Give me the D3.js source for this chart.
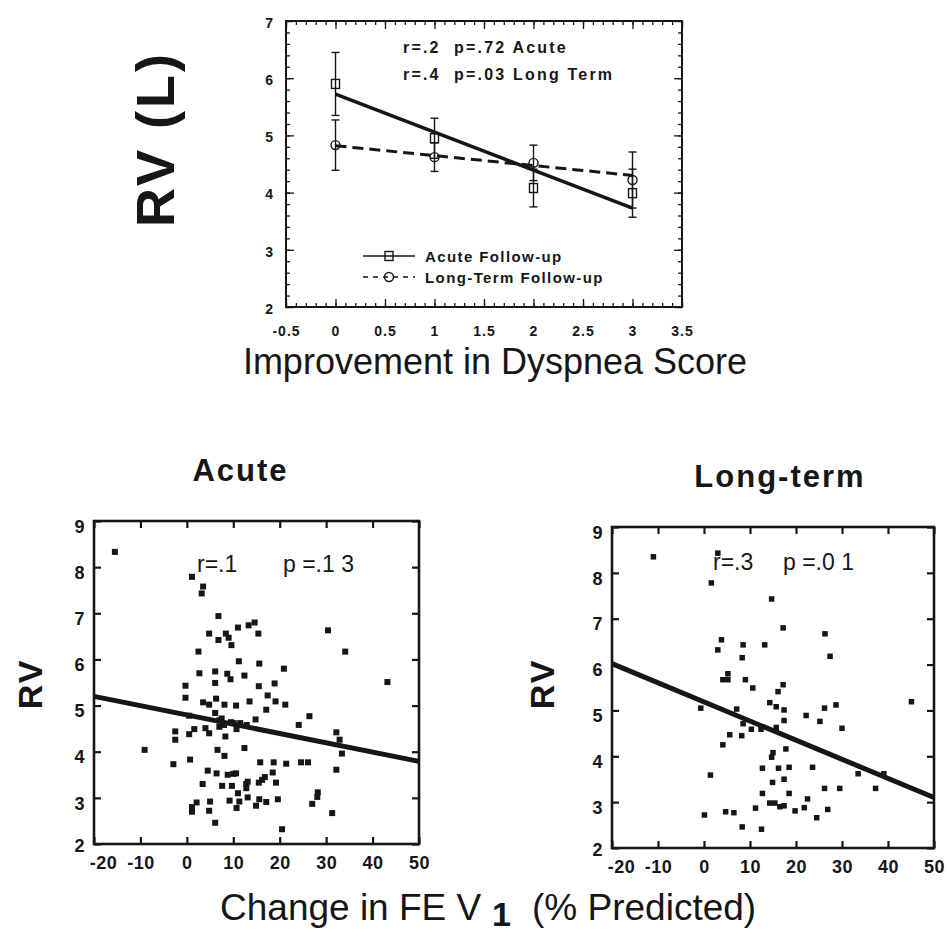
<!DOCTYPE html>
<html>
<head>
<meta charset="utf-8">
<script src="https://cdn.jsdelivr.net/npm/d3@7"></script>
<style>
body { margin: 0; background: #fff; }
svg { display: block; font-family: "Liberation Sans", Arial, Helvetica, sans-serif; }
text { fill: #161616; white-space: pre; }
</style>
</head>
<body>
<script>
'use strict';

// top panel: mean RV by improvement in dyspnea score
let dyspneaScore = [0, 1, 2, 3];
let acuteMean = [5.9, 4.95, 4.08, 3.99];
let acuteErr = [0.55, 0.35, 0.33, 0.42];
let longMean = [4.83, 4.62, 4.52, 4.22];
let longErr = [0.44, 0.25, 0.31, 0.49];
let acuteFitEnds = [5.72, 3.73];   // fitted RV at score 0 and 3
let longFitEnds = [4.82, 4.30];
let topStats = ['r=.2  p=.72 Acute', 'r=.4  p=.03 Long Term'];
let legendLabels = ['Acute Follow-up', 'Long-Term Follow-up'];
let scoreTicks = [-0.5, 0, 0.5, 1, 1.5, 2, 2.5, 3, 3.5];
let rvTopTicks = [2, 3, 4, 5, 6, 7];

// bottom panels: change in FEV1 (% predicted) vs RV
let acuteFev = [-15.5, 1.1, 3.5, 3.2, 6.8, 4.8, 6.8, 8.4, 9.0, 9.6, 11.0, 13.3, 14.6, 15.4, 2.5, 11.2, 15.6, 20.9, 30.4, 34.1,
	43.2, 2.7, 6.1, 8.7, 9.4, 12.4, 6.1, -0.3, 15.5, 18.9, -0.3, 3.5, 4.8, 6.3, 8.1, 10.6, 13.5, 17.4, 17.1, 19.1,
	21.2, 0.5, 6.1, 14.8, 7.0, 24.1, 26.4, -2.5, -2.5, 0.5, 1.6, 4.0, 4.8, 7.0, 8.3, 10.7, 12.9, 10.1, 32.2, 32.9,
	33.4, -9.1, 12.4, 6.6, 8.1, -2.9, 0.7, 15.8, 18.7, 21.4, 26.1, 32.2, 4.5, 6.4, 8.8, 10.6, 18.5, 3.4, 7.6, 9.7,
	12.8, 16.2, 15.5, 19.2, 11.0, 12.8, 28.2, 28.1, 13.1, 9.2, 11.3, 15.6, 17.1, 19.6, 2.1, 1.1, 5.0, 4.8, 1.1, 10.7,
	14.9, 27.0, 31.3, 6.1, 20.5, 7.5, 8.0, 9.5, 11.5, 10.0, 24.6, 13.1, 16.8];
let acuteRv = [8.33, 7.79, 7.58, 7.43, 6.94, 6.56, 6.42, 6.56, 6.47, 6.31, 6.69, 6.74, 6.80, 6.56, 6.17, 5.96, 5.91, 5.80, 6.63, 6.17,
	5.51, 5.70, 5.74, 5.69, 5.57, 5.65, 5.49, 5.43, 5.42, 5.48, 5.17, 5.07, 5.02, 5.15, 5.02, 5.00, 5.09, 5.22, 4.91, 5.09,
	5.02, 4.78, 4.84, 4.70, 4.68, 4.58, 4.77, 4.44, 4.26, 4.38, 4.49, 4.51, 4.40, 4.54, 4.33, 4.49, 4.58, 4.62, 4.42, 4.26,
	3.96, 4.04, 4.08, 4.04, 3.91, 3.73, 3.83, 3.77, 3.77, 3.74, 3.77, 3.61, 3.59, 3.53, 3.50, 3.53, 3.55, 3.30, 3.26, 3.26,
	3.30, 3.39, 3.33, 3.33, 3.10, 3.21, 3.12, 3.02, 3.01, 2.94, 2.92, 2.97, 2.91, 2.97, 2.90, 2.80, 2.92, 2.72, 2.70, 2.78,
	2.83, 2.87, 2.67, 2.46, 2.32, 4.72, 4.58, 4.64, 4.62, 3.52, 3.77, 3.35, 3.45];
let longFev = [-11.0, 3.0, 1.6, 14.7, 17.2, 26.3, 27.4, 3.8, 3.0, 8.5, 13.2, 8.3, 5.2, 4.1, 5.2, 9.0, 10.6, 17.2, 16.1, 14.3,
	15.7, 17.4, 17.4, 22.2, 25.2, 26.2, 28.7, 30.0, 45.1, -0.7, 7.1, 8.5, 10.3, 12.4, 15.7, 5.6, 8.2, 4.1, 17.8, 15.0,
	14.7, 1.4, 12.7, 16.2, 18.5, 23.6, 33.5, 39.1, 14.9, 17.4, 26.2, 29.5, 37.3, 12.7, 18.5, 22.5, 14.3, 15.4, 16.5, 17.4,
	19.8, 21.8, 26.9, 24.5, 11.2, 4.7, 6.5, 0.1, 8.3, 12.5];
let longRv = [8.35, 8.43, 7.78, 7.43, 6.80, 6.67, 6.18, 6.54, 6.32, 6.43, 6.43, 6.15, 5.80, 5.67, 5.67, 5.67, 5.49, 5.56, 5.41, 5.17,
	5.08, 5.01, 4.78, 4.89, 4.76, 5.05, 5.12, 4.61, 5.19, 5.05, 5.03, 4.71, 4.59, 4.59, 4.63, 4.47, 4.45, 4.25, 4.16, 4.08,
	3.98, 3.59, 3.74, 3.74, 3.76, 3.76, 3.62, 3.62, 3.43, 3.50, 3.30, 3.30, 3.30, 3.19, 3.19, 3.07, 2.98, 2.98, 2.90, 2.92,
	2.81, 2.88, 2.84, 2.66, 2.87, 2.79, 2.77, 2.72, 2.46, 2.41];
let acuteLineEnds = [5.2, 3.79];   // regression RV at -20 and 50
let longLineEnds = [6.02, 3.1];
let fevTicks = [-20, -10, 0, 10, 20, 30, 40, 50];
let rvTicks = [2, 3, 4, 5, 6, 7, 8, 9];

let width = 950, height = 936;
let ink = '#161616';

let svg = d3.select('body').append('svg')
	.attr('width', width)
	.attr('height', height);

// ---------- top panel ----------
let x = d3.scaleLinear([-0.5, 3.5], [286, 682]);
let y = d3.scaleLinear([2, 7], [307, 21]);

let noDomain = g => g.select('.domain').remove();
let styleTicks = g => g.selectAll('line').attr('stroke', ink).attr('stroke-width', 1.3);
let minorScore = d3.range(-5, 36).map(i => i / 10);
let minorRv = d3.range(10, 36).map(i => i / 5);

// inward ticks on all four sides, minor then major
[[d3.axisBottom, y(2)], [d3.axisTop, y(7)]].forEach(([ax, pos], i) => {
	svg.append('g').attr('transform', `translate(0,${pos})`)
		.call(ax(x).tickValues(minorScore).tickSize(-4).tickFormat(''))
		.call(noDomain).call(styleTicks);
	svg.append('g').attr('transform', `translate(0,${pos})`)
		.call(ax(x).tickValues(scoreTicks).tickSize(-8).tickPadding(19)
			.tickFormat(d => i ? '' : String(d)))
		.call(noDomain).call(styleTicks)
		.selectAll('text').attr('fill', ink)
		.style('font-size', '14px').style('font-weight', 'bold').style('letter-spacing', '1px');
});
[[d3.axisLeft, x(-0.5)], [d3.axisRight, x(3.5)]].forEach(([ax, pos], i) => {
	svg.append('g').attr('transform', `translate(${pos},0)`)
		.call(ax(y).tickValues(minorRv).tickSize(-4).tickFormat(''))
		.call(noDomain).call(styleTicks);
	svg.append('g').attr('transform', `translate(${pos},0)`)
		.call(ax(y).tickValues(rvTopTicks).tickSize(-8).tickPadding(13)
			.tickFormat(d => i ? '' : String(d)))
		.call(noDomain).call(styleTicks)
		.selectAll('text').attr('fill', ink).attr('dy', '0.45em')
		.style('font-size', '14px').style('font-weight', 'bold');
});

svg.append('rect')
	.attr('x', x(-0.5)).attr('y', y(7))
	.attr('width', x(3.5) - x(-0.5)).attr('height', y(2) - y(7))
	.attr('fill', 'none').attr('stroke', ink).attr('stroke-width', 2);

// fitted lines
svg.append('line')
	.attr('x1', x(0)).attr('y1', y(acuteFitEnds[0]))
	.attr('x2', x(3)).attr('y2', y(acuteFitEnds[1]))
	.attr('stroke', ink).attr('stroke-width', 3.5);
svg.append('line')
	.attr('x1', x(0)).attr('y1', y(longFitEnds[0]))
	.attr('x2', x(3)).attr('y2', y(longFitEnds[1]))
	.attr('stroke', ink).attr('stroke-width', 3).attr('stroke-dasharray', '11,6');

// error bars and markers
function errorBars(means, errs) {
	let g = svg.append('g').attr('stroke', ink).attr('stroke-width', 1.4).attr('fill', 'none');
	dyspneaScore.forEach((s, i) => {
		let lo = y(means[i] - errs[i]), hi = y(means[i] + errs[i]);
		g.append('line').attr('x1', x(s)).attr('x2', x(s)).attr('y1', lo).attr('y2', hi);
		g.append('line').attr('x1', x(s) - 4).attr('x2', x(s) + 4).attr('y1', lo).attr('y2', lo);
		g.append('line').attr('x1', x(s) - 4).attr('x2', x(s) + 4).attr('y1', hi).attr('y2', hi);
	});
}
errorBars(acuteMean, acuteErr);
errorBars(longMean, longErr);

let squareMark = (sel, cx, cy) => sel.append('rect')
	.attr('x', cx - 4).attr('y', cy - 4.5).attr('width', 8).attr('height', 9)
	.attr('fill', 'none').attr('stroke', ink).attr('stroke-width', 1.4);
let circleMark = (sel, cx, cy) => sel.append('circle')
	.attr('cx', cx).attr('cy', cy).attr('r', 4.5)
	.attr('fill', 'none').attr('stroke', ink).attr('stroke-width', 1.4);

dyspneaScore.forEach((s, i) => {
	squareMark(svg, x(s), y(acuteMean[i]));
	circleMark(svg, x(s), y(longMean[i]));
});

// stats text
svg.append('g').selectAll('text').data(topStats).join('text')
	.attr('x', 403).attr('y', (d, i) => 53 + i * 27)
	.style('font-size', '16px').style('font-weight', 'bold').style('letter-spacing', '2.2px')
	.text(d => d);

// legend, line runs through the open marker
legendLabels.forEach((label, i) => {
	let ly = 256 + i * 21;
	svg.append('line').attr('x1', 363).attr('x2', 415).attr('y1', ly).attr('y2', ly)
		.attr('stroke', ink).attr('stroke-width', 1.4)
		.attr('stroke-dasharray', i ? '5,5' : null);
	if (i) circleMark(svg, 389, ly);
	else squareMark(svg, 389, ly);
	svg.append('text').attr('x', 425).attr('y', ly + 6)
		.style('font-size', '15px').style('font-weight', 'bold').style('letter-spacing', '1.4px')
		.text(label);
});

svg.append('text')
	.attr('transform', 'translate(174,139) rotate(-90)')
	.attr('text-anchor', 'middle')
	.style('font-size', '54px').style('font-weight', 'bold').style('letter-spacing', '3px')
	.text('RV (L)');

svg.append('text')
	.attr('x', 495).attr('y', 374)
	.attr('text-anchor', 'middle')
	.style('font-size', '36px')
	.text('Improvement in Dyspnea Score');

// ---------- bottom panels ----------
function drawScatter(o) {
	let sx = d3.scaleLinear([-20, 50], [o.left, o.right]);
	let sy = d3.scaleLinear([2, 9], [o.bottom, o.top]);
	let g = svg.append('g');

	let axes = [
		[d3.axisBottom(sx).tickValues(fevTicks), `translate(0,${o.bottom})`, true],
		[d3.axisTop(sx).tickValues(fevTicks), `translate(0,${o.top})`, false],
		[d3.axisLeft(sy).tickValues(rvTicks), `translate(${o.left},0)`, true],
		[d3.axisRight(sy).tickValues(rvTicks), `translate(${o.right},0)`, false]
	];
	axes.forEach(([ax, tr, labelled], i) => {
		let a = g.append('g').attr('transform', tr)
			.call(ax.tickSize(-7).tickPadding(i === 0 ? 12 : 9).tickFormat(d => labelled ? String(d) : ''))
			.call(noDomain);
		a.selectAll('line').attr('stroke', ink).attr('stroke-width', 2.2);
		a.selectAll('text').attr('fill', ink)
			.style('font-size', '18px').style('font-weight', 'bold').style('letter-spacing', '0.5px');
		// corner labels: "2" sits a little higher, "-20" a little right
		if (i === 2) a.selectAll('text').attr('dy', d => d === 2 ? '0.4em' : '0.62em');
		if (i === 0) a.selectAll('text').attr('dx', d => d === -20 ? 9 : 0);
	});

	g.append('rect')
		.attr('x', o.left).attr('y', o.top)
		.attr('width', o.right - o.left).attr('height', o.bottom - o.top)
		.attr('fill', 'none').attr('stroke', ink).attr('stroke-width', 2.6);

	let pts = d3.zip(o.fev, o.rv);
	g.append('g').selectAll('rect').data(pts).join('rect')
		.attr('x', d => sx(d[0]) - o.size / 2)
		.attr('y', d => sy(d[1]) - o.size / 2)
		.attr('width', o.size).attr('height', o.size)
		.attr('fill', ink);

	g.append('line')
		.attr('x1', sx(-20)).attr('y1', sy(o.ends[0]))
		.attr('x2', sx(50)).attr('y2', sy(o.ends[1]))
		.attr('stroke', ink).attr('stroke-width', 5);

	g.append('text')
		.attr('x', (o.left + o.right) / 2 + o.titleDx).attr('y', o.titleY)
		.attr('text-anchor', 'middle')
		.style('font-size', '31px').style('font-weight', 'bold').style('letter-spacing', '2px')
		.text(o.title);

	g.append('text')
		.attr('transform', `translate(${o.rvX},684) rotate(-90)`)
		.attr('text-anchor', 'middle')
		.style('font-size', '34px').style('font-weight', 'bold').style('letter-spacing', '2px')
		.text('RV');

	o.stats.forEach(([t, tx]) => {
		g.append('text').attr('x', tx).attr('y', o.statY)
			.style('font-size', '23px')
			.text(t);
	});
}

drawScatter({
	left: 94, right: 419, top: 521, bottom: 844,
	fev: acuteFev, rv: acuteRv, ends: acuteLineEnds, size: 6,
	title: 'Acute', titleDx: -16, titleY: 481, rvX: 42,
	stats: [['r=.1', 197], ['p =.1 3', 283]], statY: 572
});
drawScatter({
	left: 612, right: 934, top: 527, bottom: 848,
	fev: longFev, rv: longRv, ends: longLineEnds, size: 5.5,
	title: 'Long-term', titleDx: 7, titleY: 487, rvX: 554,
	stats: [['r=.3', 713], ['p =.0 1', 783]], statY: 570
});

// shared x title with subscript
let xt = svg.append('text').attr('y', 920).style('font-size', '37px');
xt.append('tspan').attr('x', 220).text('Change in FE V');
xt.append('tspan').attr('x', 492).attr('dy', 6).style('font-weight', 'bold').style('font-size', '34px').text('1');
xt.append('tspan').attr('x', 532).attr('dy', -6).text('(% Predicted)');
</script>
</body>
</html>
